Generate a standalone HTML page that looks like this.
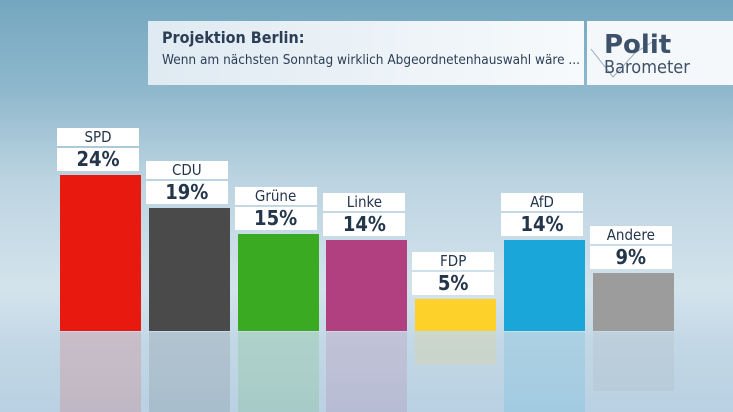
<!DOCTYPE html>
<html><head><meta charset="utf-8"><style>
html,body{margin:0;padding:0;width:733px;height:412px;overflow:hidden}
body{position:relative;font-family:"DejaVu Sans Condensed","DejaVu Sans","Liberation Sans",sans-serif;
background:linear-gradient(180deg,#74a7c0 0px,#8fb8cc 90px,#bcd4e1 180px,#d3e3ec 290px,#c3d8e6 340px,#b9d1e3 412px);}
.hdr{position:absolute;left:148px;top:21px;width:436px;height:64px;background:linear-gradient(90deg,#dfeaf2,#f7fafc);}
.logo{position:absolute;left:587px;top:21px;width:146px;height:64px;background:#f5f8fa;}
.t1{position:absolute;left:14px;top:7px;font-size:16px;font-weight:bold;color:#2c3e55;}
.t2{position:absolute;left:14px;top:31px;font-size:13.5px;color:#2c3e55;}
.box{position:absolute;background:#fff;color:#24364c;text-align:center;}
.nm{font-size:15px;line-height:18px;height:18px}
.pv{font-size:20px;font-weight:bold;line-height:23px;height:23px}
.bar{position:absolute}
</style></head><body>
<div class="hdr">
<div class="t1">Projektion Berlin:</div>
<div class="t2">Wenn am nächsten Sonntag wirklich Abgeordnetenhauswahl wäre ...</div>
</div>
<div class="logo">
<svg width="146" height="64" style="position:absolute;left:0;top:0">
<polyline points="4,28 26,56 48,32 70,18" fill="none" stroke="#9aa9b6" stroke-width="1"/>
<text x="17" y="32" font-family="DejaVu Sans, sans-serif" font-size="26" font-weight="bold" fill="#3d526a">Polit</text>
<text x="17" y="52" font-family="DejaVu Sans Condensed, DejaVu Sans, sans-serif" font-size="18" fill="#3d526a">Barometer</text>
</svg>
</div>
<div id="chart"></div>
<script>
const parties=["SPD","CDU","Grüne","Linke","FDP","AfD","Andere"];
const values=[24,19,15,14,5,14,9];
const colors=["#e8190f","#4a4a4a","#3aaa22","#b0407f","#fdd02a","#1aa6d8","#9c9c9c"];
const baseY=331, pxPer=6.5, x0=60, step=88.8, bw=81;
const c=document.getElementById('chart');
function yScale(v){return baseY-v*pxPer;}
parties.forEach((p,i)=>{
 const x=x0+i*step, top=yScale(values[i]), h=baseY-top;
 const b=document.createElement('div');
 b.className='bar';
 
 
 b.style.cssText=`left:${x}px;top:${top}px;width:${bw}px;height:${h}px;background:${colors[i]}`;
 c.appendChild(b);
 const r=document.createElement('div');
 r.className='bar';
 
 
 r.style.cssText=`left:${x}px;top:${baseY+1}px;width:${bw}px;height:${Math.min(h,80)}px;background:${colors[i]};opacity:0.14`;
 c.appendChild(r);
 const v=document.createElement('div');
 v.className='box pv';
 
 
 v.style.cssText=`left:${x-3}px;top:${top-27}px;width:${bw+1}px`;
 v.textContent=values[i]+'%';
 c.appendChild(v);
 const n=document.createElement('div');
 n.className='box nm';
 
 
 n.style.cssText=`left:${x-3}px;top:${top-47}px;width:${bw+1}px`;
 n.textContent=p;
 c.appendChild(n);
});
</script>
</body></html>
